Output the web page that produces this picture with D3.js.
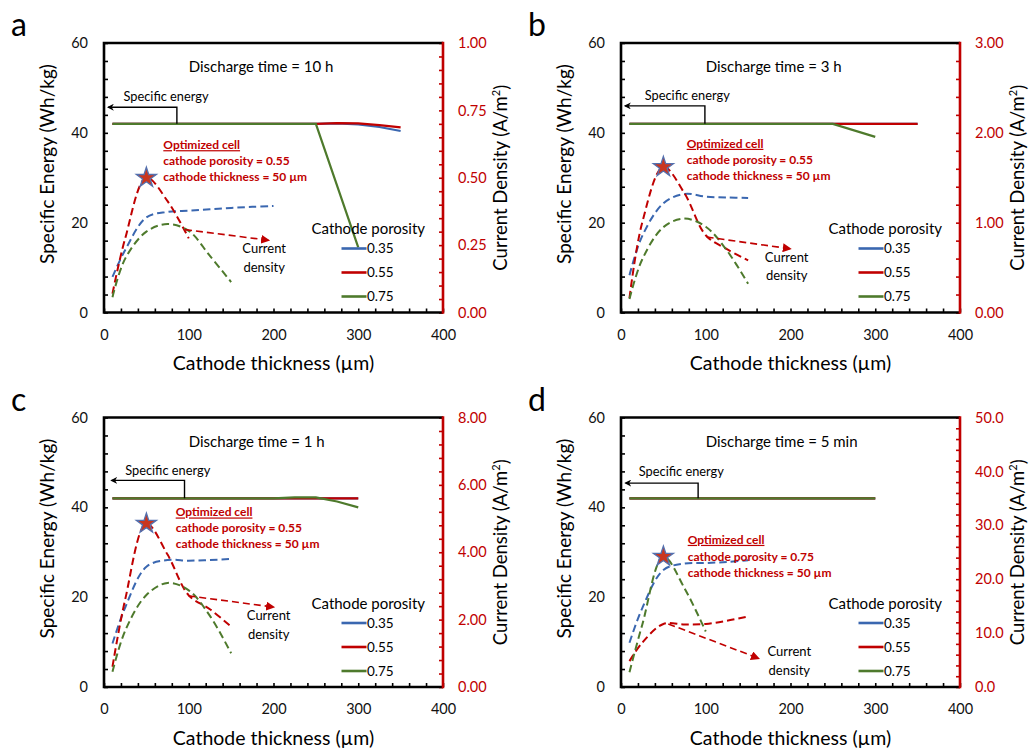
<!DOCTYPE html>
<html>
<head>
<meta charset="utf-8">
<script src="https://cdn.jsdelivr.net/npm/d3@7"></script>
<style>
  body { margin: 0; background: #fff; }
  svg { font-family: Lato, "Open Sans", sans-serif; }
</style>
</head>
<body>
<svg id="chart" width="1031" height="748"></svg>
<script>
// ---- data ----
const porosity = ['0.35', '0.55', '0.75'];
const xTicks = [0, 100, 200, 300, 400];
const leftTicks = [0, 20, 40, 60];

// cathode thickness grids (µm)
const thk = [10, 25, 50, 75, 100, 125, 150];
const thkShort = [10, 25, 50, 75, 100];
const thkLong = [10, 25, 50, 75, 100, 125, 150, 175, 200];

// a: discharge time = 10 h
const a_seX = [10, 50, 100, 150, 200, 250, 275, 300, 325, 350];
const a_se035 = [42, 42, 42, 42, 42, 42, 42.1, 41.9, 41.3, 40.4];
const a_se055 = [42, 42, 42, 42, 42, 42, 42.15, 42.1, 41.7, 41.2];
const a_se075X = [10, 50, 100, 150, 200, 250, 300];
const a_se075 = [42, 42, 42, 42, 42, 42, 14.5];
const a_cd035 = [0.132, 0.232, 0.353, 0.373, 0.378, 0.383, 0.388, 0.392, 0.395];
const a_cd055 = [0.07, 0.275, 0.50, 0.413, 0.275];
const a_cd075 = [0.057, 0.20, 0.30, 0.328, 0.303, 0.21, 0.113];
const a_rTicks = [0, 0.25, 0.5, 0.75, 1.0];

// b: discharge time = 3 h
const b_seX = [10, 50, 100, 150, 200, 250, 300, 350];
const b_se035 = [42, 42, 42, 42, 42, 42, 42, 42];
const b_se055 = [42, 42, 42, 42, 42, 42, 42, 42];
const b_se075X = [10, 50, 100, 150, 200, 250, 300];
const b_se075 = [42, 42, 42, 42, 42, 42, 39.1];
const b_cd035 = [0.415, 0.85, 1.215, 1.32, 1.29, 1.28, 1.275];
const b_cd055 = [0.16, 1.0, 1.62, 1.325, 0.86, 0.705, 0.58];
const b_cd075 = [0.15, 0.59, 0.95, 1.045, 0.955, 0.69, 0.32];
const b_rTicks = [0, 1, 2, 3];

// c: discharge time = 1 h
const c_seX = [10, 50, 100, 150, 200, 250, 300];
const c_se035 = [42, 42, 42, 42, 42, 42, 42];
const c_se055 = [42, 42, 42, 42, 42, 42, 42];
const c_se075X = [10, 50, 100, 150, 200, 225, 250, 275, 300];
const c_se075 = [42, 42, 42, 42, 42, 42.2, 42.2, 41.3, 40.0];
const c_cd035 = [1.29, 2.36, 3.57, 3.77, 3.75, 3.77, 3.80];
const c_cd055 = [0.60, 2.60, 4.85, 3.93, 2.72, 2.31, 1.79];
const c_cd075 = [0.45, 1.67, 2.73, 3.09, 2.87, 2.11, 1.00];
const c_rTicks = [0, 2, 4, 6, 8];

// d: discharge time = 5 min
const d_seX = [10, 50, 100, 150, 200, 250, 300];
const d_se035 = [42, 42, 42, 42, 42, 42, 42];
const d_se055 = [42, 42, 42, 42, 42, 42, 42];
const d_se075 = [42, 42, 42, 42, 42, 42, 42];
const d_cd035 = [8.2, 14.6, 21.7, 22.9, 23.0, 23.2, 23.5];
const d_cd055 = [4.8, 8.2, 11.7, 11.6, 11.7, 12.3, 13.1];
const d_cd075 = [2.75, 11.5, 24.2, 18.3, 10.3];
const d_rTicks = [0, 10, 20, 30, 40, 50];

const colors = ['#3A67B0', '#C00000', '#4E7A2C'];
const RED = '#C00000';

const zip = (xs, ys) => xs.map((v, i) => [v, ys[i]]);

const panels = [
  { letter: 'a', title: 'Discharge time = 10 h', left: 104, top: 43,
    rMax: 1, rTicks: a_rTicks, rMinor: 0.05, rFmt: d3.format('.2f'),
    se: [zip(a_seX, a_se035), zip(a_seX, a_se055), zip(a_se075X, a_se075)],
    cd: [zip(thkLong, a_cd035), zip(thkShort, a_cd055), zip(thk, a_cd075)],
    opt: 1, seArrow: { x0: 86, x1: 5, e: 45.7, tx: 23, te: 48.0 },
    optText: { x: 70, e: 37.3, step: 16 },
    cdArrow: [95.6, 18.45, 193.9, 16.1], cdText: { x: 189, e: 14.2 } },
  { letter: 'b', title: 'Discharge time = 3 h', left: 621, top: 43,
    rMax: 3, rTicks: b_rTicks, rMinor: 0.2, rFmt: d3.format('.2f'),
    se: [zip(b_seX, b_se035), zip(b_seX, b_se055), zip(b_se075X, b_se075)],
    cd: [zip(thk, b_cd035), zip(thk, b_cd055), zip(thk, b_cd075)],
    opt: 1, seArrow: { x0: 99, x1: 5, e: 46.0, tx: 28, te: 48.2 },
    optText: { x: 77.5, e: 37.6, step: 16 },
    cdArrow: [101, 16.8, 199.4, 14.2], cdText: { x: 195.5, e: 12.3 } },
  { letter: 'c', title: 'Discharge time = 1 h', left: 104, top: 417.5,
    rMax: 8, rTicks: c_rTicks, rMinor: 0.4, rFmt: d3.format('.2f'),
    se: [zip(c_seX, c_se035), zip(c_seX, c_se055), zip(c_se075X, c_se075)],
    cd: [zip(thk, c_cd035), zip(thk, c_cd055), zip(thk, c_cd075)],
    opt: 1, seArrow: { x0: 95, x1: 9, e: 46.0, tx: 25, te: 48.2 },
    optText: { x: 84.6, e: 38.9, step: 16 },
    cdArrow: [99.5, 20.3, 199.8, 17.8], cdText: { x: 194.3, e: 15.9 } },
  { letter: 'd', title: 'Discharge time = 5 min', left: 621, top: 417.5,
    rMax: 50, rTicks: d_rTicks, rMinor: 2, rFmt: d3.format('.1f'),
    se: [zip(d_seX, d_se035), zip(d_seX, d_se055), zip(d_seX, d_se075)],
    cd: [zip(thk, d_cd035), zip(thk, d_cd055), zip(thkShort, d_cd075)],
    opt: 2, seArrow: { x0: 91, x1: 5.5, e: 45.4, tx: 21, te: 47.9 },
    optText: { x: 78.7, e: 32.8, step: 16.7 },
    cdArrow: [55.8, 14.05, 162, 6.4], cdText: { x: 198.6, e: 7.9 } }
];

const W = 339, H = 269.5;
const svg = d3.select('#chart');

const defs = svg.append('defs');
defs.append('marker').attr('id', 'headBlack')
  .attr('viewBox', '0 0 10 10').attr('refX', 8).attr('refY', 5)
  .attr('markerWidth', 7).attr('markerHeight', 7).attr('markerUnits', 'userSpaceOnUse')
  .attr('orient', 'auto')
  .append('path').attr('d', 'M0,0 L10,5 L0,10 L3,5 Z').attr('fill', '#000');
defs.append('marker').attr('id', 'headRed')
  .attr('viewBox', '0 0 10 10').attr('refX', 8).attr('refY', 5)
  .attr('markerWidth', 9).attr('markerHeight', 9).attr('markerUnits', 'userSpaceOnUse')
  .attr('orient', 'auto')
  .append('path').attr('d', 'M0,0 L10,5 L0,10 Z').attr('fill', RED);

panels.forEach(drawPanel);

function drawPanel(p) {
  const g = svg.append('g').attr('transform', `translate(${p.left},${p.top})`);
  const x = d3.scaleLinear().domain([0, 400]).range([0, W]);
  const y = d3.scaleLinear().domain([0, 60]).range([H, 0]);
  const yR = d3.scaleLinear().domain([0, p.rMax]).range([H, 0]);

  // minor ticks (inside)
  const nR = Math.round(p.rMax / p.rMinor);
  g.append('g')
    .call(d3.axisLeft(y).tickValues(d3.range(0, 61, 4)).tickSize(-4).tickFormat(''))
    .call(s => s.select('.domain').remove())
    .selectAll('line').attr('stroke', '#000').attr('stroke-width', 1.6);
  g.append('g').attr('transform', `translate(0,${H})`)
    .call(d3.axisBottom(x).tickValues(d3.range(0, 401, 20)).tickSize(-4).tickFormat(''))
    .call(s => s.select('.domain').remove())
    .selectAll('line').attr('stroke', '#000').attr('stroke-width', 1.6);
  g.append('g').attr('transform', `translate(${W},0)`)
    .call(d3.axisRight(yR).tickValues(d3.range(0, nR + 1).map(i => i * p.rMinor)).tickSize(-4).tickFormat(''))
    .call(s => s.select('.domain').remove())
    .selectAll('line').attr('stroke', RED).attr('stroke-width', 1.6);

  // tick labels
  g.append('g')
    .call(d3.axisLeft(y).tickValues(leftTicks).tickSize(0).tickPadding(16))
    .call(s => s.select('.domain').remove())
    .selectAll('text').attr('font-size', 14.5).attr('fill', '#111').style('font-family', 'Lato');
  g.append('g').attr('transform', `translate(0,${H})`)
    .call(d3.axisBottom(x).tickValues(xTicks).tickSize(0).tickPadding(17))
    .call(s => s.select('.domain').remove())
    .selectAll('text').attr('font-size', 14.5).attr('fill', '#111').style('font-family', 'Lato');
  g.append('g').attr('transform', `translate(${W},0)`)
    .call(d3.axisRight(yR).tickValues(p.rTicks).tickSize(0).tickPadding(15).tickFormat(p.rFmt))
    .call(s => s.select('.domain').remove())
    .selectAll('text').attr('font-size', 14.5).attr('fill', RED).style('font-family', 'Lato');

  // frame
  g.append('path').attr('d', `M${W},0 H0 V${H} H${W}`)
    .attr('fill', 'none').attr('stroke', '#000').attr('stroke-width', 2.6);
  g.append('line').attr('x1', W).attr('x2', W).attr('y1', -1.3).attr('y2', H + 1.3)
    .attr('stroke', RED).attr('stroke-width', 2.6);

  // specific energy (solid)
  const seLine = d3.line().x(d => x(d[0])).y(d => y(d[1]));
  g.selectAll('.se').data(p.se).join('path')
    .attr('d', seLine).attr('fill', 'none')
    .attr('stroke', (d, i) => colors[i]).attr('stroke-width', 2.2);

  // current density (dashed)
  const cdLine = d3.line().x(d => x(d[0])).y(d => yR(d[1])).curve(d3.curveCatmullRom.alpha(0.5));
  g.selectAll('.cd').data(p.cd).join('path')
    .attr('d', cdLine).attr('fill', 'none')
    .attr('stroke', (d, i) => colors[i]).attr('stroke-width', 2)
    .attr('stroke-dasharray', '7.5,4');

  // optimized point star
  const optPt = p.cd[p.opt].find(d => d[0] === 50);
  g.append('path')
    .attr('d', d3.symbol(d3.symbolStar, 125)())
    .attr('transform', `translate(${x(optPt[0])},${yR(optPt[1])})`)
    .attr('fill', '#C9361F').attr('stroke', '#5470AE').attr('stroke-width', 1.3);

  // panel letter and title
  g.append('text').attr('x', -93).attr('y', -7).attr('font-size', 32).text(p.letter);
  g.append('text').attr('x', x(100)).attr('y', 29).attr('font-size', 15).text(p.title);

  // specific energy arrow
  const sa = p.seArrow;
  g.append('path')
    .attr('d', `M${x(sa.x0)},${y(42)} V${y(sa.e)} H${x(sa.x1)}`)
    .attr('fill', 'none').attr('stroke', '#000').attr('stroke-width', 1.4)
    .attr('marker-end', 'url(#headBlack)');
  g.append('text').attr('x', x(sa.tx)).attr('y', y(sa.te)).attr('dy', '0.35em')
    .attr('font-size', 12.8).text('Specific energy');

  // optimized cell text
  const ot = p.optText;
  const optLines = ['Optimized cell', `cathode porosity = ${porosity[p.opt]}`, 'cathode thickness = 50 µm'];
  g.selectAll('.opt').data(optLines).join('text')
    .attr('x', x(ot.x)).attr('y', (d, i) => y(ot.e) + i * ot.step).attr('dy', '0.35em')
    .attr('font-size', 12).attr('font-weight', 'bold').attr('fill', RED)
    .style('text-decoration', (d, i) => i === 0 ? 'underline' : null)
    .text(d => d);

  // current density arrow
  const ca = p.cdArrow;
  g.append('line')
    .attr('x1', x(ca[0])).attr('y1', y(ca[1])).attr('x2', x(ca[2])).attr('y2', y(ca[3]))
    .attr('stroke', RED).attr('stroke-width', 1.6).attr('stroke-dasharray', '7,4')
    .attr('marker-end', 'url(#headRed)');
  g.selectAll('.cdt').data(['Current', 'density']).join('text')
    .attr('x', x(p.cdText.x)).attr('y', (d, i) => y(p.cdText.e) + i * 18.5).attr('dy', '0.35em')
    .attr('text-anchor', 'middle').attr('font-size', 13).text(d => d);

  // legend
  const lg = g.append('g').attr('transform', 'translate(207.5,186)');
  lg.append('text').attr('x', 0).attr('y', 0).attr('dy', '0.35em').attr('font-size', 15)
    .text('Cathode porosity');
  const items = lg.selectAll('.item').data(porosity).join('g')
    .attr('transform', (d, i) => `translate(0,${19.5 + i * 24})`);
  items.append('line').attr('x1', 30).attr('x2', 55)
    .attr('stroke', (d, i) => colors[i]).attr('stroke-width', 2.6);
  items.append('text').attr('x', 55.5).attr('dy', '0.35em').attr('font-size', 13.5).text(d => d);

  // axis titles
  g.append('text')
    .attr('transform', `translate(-57,121) rotate(-90)`)
    .attr('text-anchor', 'middle').attr('dy', '0.35em').attr('font-size', 19)
    .text('Specific Energy (Wh/kg)');
  const rt = g.append('text')
    .attr('transform', `translate(${W + 58},${H / 2}) rotate(-90)`)
    .attr('text-anchor', 'middle').attr('dy', '0.35em').attr('font-size', 18.5);
  rt.append('tspan').text('Current Density (A/m');
  rt.append('tspan').attr('font-size', 11).attr('dy', '-0.7em').text('2');
  rt.append('tspan').attr('dy', '0.45em').text(')');
  g.append('text').attr('x', W / 2).attr('y', H + 51).attr('dy', '0.35em')
    .attr('text-anchor', 'middle').attr('font-size', 19.5)
    .text('Cathode thickness (µm)');
}
</script>
</body>
</html>
